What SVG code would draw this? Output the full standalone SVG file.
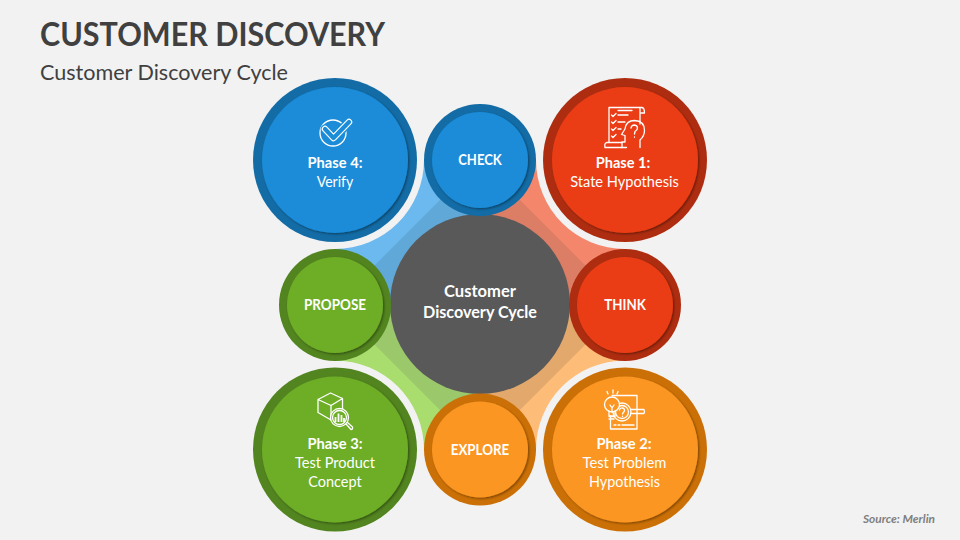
<svg xmlns="http://www.w3.org/2000/svg" width="960" height="540" viewBox="0 0 960 540">
<defs>
<filter id="sh" x="-20%" y="-20%" width="140%" height="140%"><feDropShadow dx="1.2" dy="1.2" stdDeviation="1.2" flood-color="#000" flood-opacity=".4"/></filter>
</defs>
<style>
text{font-family:Lato,"Liberation Sans",sans-serif;fill:#fff;text-anchor:middle}
.t{fill:#404040;text-anchor:start}
.b{font-weight:700}
.l{font-size:15.5px}
.c{font-size:15.5px;font-weight:700}
.i{fill:none;stroke:#fff;stroke-width:1.3;stroke-linecap:round;stroke-linejoin:round}
.in{filter:url(#sh)}
.blue .o{fill:#136CA6}.blue .in{fill:#1A8CD8}
.red .o{fill:#AE2D10}.red .in{fill:#EA3D14}
.orange .o{fill:#CB7006}.orange .in{fill:#FB9623}
.green .o{fill:#52841F}.green .in{fill:#6DAE27}
</style>
<rect width="960" height="540" fill="#F2F2F2"/>
<text class="t b" x="40" y="46" font-size="33" textLength="345" lengthAdjust="spacingAndGlyphs">CUSTOMER DISCOVERY</text>
<text class="t" x="40" y="80" font-size="21.500" textLength="248" lengthAdjust="spacingAndGlyphs">Customer Discovery Cycle</text>
<g id="connectors">
<path fill="#6BB9EF" d="M424,160A89,89 0 0 1 335,249L335,305L480,305L480,160Z"/>
<path fill="#F4876B" d="M536,160A89,89 0 0 0 625,249L625,305L480,305L480,160Z"/>
<path fill="#A9DD6D" d="M424,449.500A89,89 0 0 0 335,360.500L335,305L480,305L480,449.500Z"/>
<path fill="#FDBD78" d="M536,449.500A89,89 0 0 1 625,360.500L625,305L480,305L480,449.500Z"/>
<path fill="#5FA8D8" d="M450,190L365,275L380,305L480,305L480,190Z"/>
<path fill="#DC7D66" d="M510,190L595,275L580,305L480,305L480,190Z"/>
<path fill="#9AC86A" d="M365,335L450,420L480,420L480,305L380,305Z"/>
<path fill="#E3A96C" d="M595,335L510,420L480,420L480,305L580,305Z"/>
</g>
<g id="center">
<circle cx="480" cy="304" r="90" fill="#595959"/>
<text class="b" x="480" y="297" font-size="17" textLength="72" lengthAdjust="spacingAndGlyphs">Customer</text>
<text class="b" x="480" y="318" font-size="17" textLength="114" lengthAdjust="spacingAndGlyphs">Discovery Cycle</text>
</g>
<g id="check" class="blue">
<circle class="o" cx="480" cy="160" r="56"/><circle class="in" cx="480" cy="160" r="48"/>
<text class="c" x="480" y="165" textLength="43.500" lengthAdjust="spacingAndGlyphs">CHECK</text>
</g>
<g id="think" class="red">
<circle class="o" cx="625" cy="305" r="56"/><circle class="in" cx="625" cy="305" r="48"/>
<text class="c" x="625" y="310" textLength="41.500" lengthAdjust="spacingAndGlyphs">THINK</text>
</g>
<g id="explore" class="orange">
<circle class="o" cx="480" cy="449.500" r="56"/><circle class="in" cx="480" cy="449.500" r="48"/>
<text class="c" x="480" y="454.500" textLength="58.500" lengthAdjust="spacingAndGlyphs">EXPLORE</text>
</g>
<g id="propose" class="green">
<circle class="o" cx="335" cy="305" r="56"/><circle class="in" cx="335" cy="305" r="48"/>
<text class="c" x="335" y="310" textLength="62" lengthAdjust="spacingAndGlyphs">PROPOSE</text>
</g>
<g id="phase4" class="blue">
<circle class="o" cx="335" cy="160" r="82"/><circle class="in" cx="335" cy="160" r="73"/>
<circle class="i" cx="333" cy="133" r="13"/>
<path d="M325,129L333.500,138L349,122" fill="none" stroke="#1A8CD8" stroke-width="9" stroke-linecap="round" stroke-linejoin="round"/>
<path d="M325,129L333.500,138L349,122" fill="none" stroke="#fff" stroke-width="6.500" stroke-linecap="round" stroke-linejoin="round"/>
<path d="M325,129L333.500,138L349,122" fill="none" stroke="#1A8CD8" stroke-width="4.200" stroke-linecap="round" stroke-linejoin="round"/>
<text class="l b" x="335" y="167.500" textLength="55" lengthAdjust="spacingAndGlyphs">Phase 4:</text>
<text class="l" x="335" y="186.500" textLength="36.700" lengthAdjust="spacingAndGlyphs">Verify</text>
</g>
<g id="phase1" class="red">
<circle class="o" cx="625" cy="160" r="82"/><circle class="in" cx="625" cy="160" r="73"/>
<path class="i" d="M609,142.500V107.500H642Q644.500,108 644.500,113H640M640,108V124M605,147.500H626.500M605,147.500Q604,143 607,142.500H622"/>
<path class="i" d="M618,110.500H632M618,115H628M618,122H625M618,129H621"/>
<path class="i" d="M611.500,115l1.500,1.500l3,-3M611.500,122l1.500,1.500l3,-3M611.500,129l1.500,1.500l3,-3M611.500,136l1.500,1.500l3,-3"/>
<path class="i" d="M622,147.500V142H625V135.500L621.500,134.500L625,129Q626,120.500 634.500,120.500Q644.500,121 644.500,130.500Q644.500,136 640,140V147.500"/>
<path class="i" d="M631,128Q631.500,125 634.500,125Q637.500,125.500 637.500,128Q637.500,130 635,131.500L634.500,134M634.500,137V137.200"/>
<text class="l b" x="623" y="167.500" textLength="54.500" lengthAdjust="spacingAndGlyphs">Phase 1:</text>
<text class="l" x="624.500" y="187" textLength="108.700" lengthAdjust="spacingAndGlyphs">State Hypothesis</text>
</g>
<g id="phase2" class="orange">
<circle class="o" cx="625" cy="449.500" r="82"/><circle class="in" cx="625" cy="449.500" r="73"/>
<path class="i" d="M612,395.500H637V429H610.500V416"/>
<circle class="i" cx="622" cy="412" r="9" style="fill:#FB9623"/><circle class="i" cx="622" cy="412" r="6.500"/>
<path class="i" d="M631,409.500H644Q645,412 644,413.500H631"/>
<circle class="i" cx="612" cy="404.500" r="7.500" style="fill:#FB9623"/>
<path class="i" d="M609,411V416H615V411M609,416.500H615M609,419H614M610,405L612,408L614,405M612,408V412"/>
<path class="i" d="M607,391.500L608,394M613,390V393M618,391.500L617,394"/>
<path class="i" d="M619.500,410Q620,407.500 622.500,408Q625,408.500 624.500,411Q623,412.500 622.500,414M622.500,416.200V416.400"/>
<path class="i" d="M614,425H616M618,425H620M622,425H634"/>
<text class="l b" x="624" y="449" textLength="55" lengthAdjust="spacingAndGlyphs">Phase 2:</text>
<text class="l" x="624.500" y="467.500" textLength="84" lengthAdjust="spacingAndGlyphs">Test Problem</text>
<text class="l" x="624.500" y="486.500" textLength="71" lengthAdjust="spacingAndGlyphs">Hypothesis</text>
</g>
<g id="phase3" class="green">
<circle class="o" cx="335" cy="449.500" r="82"/><circle class="in" cx="335" cy="449.500" r="73"/>
<path class="i" d="M318,399.500L330.500,393L342.500,398.500L331,405.500ZM318,399.500V412.500L331,420M331,405.500V419M342.500,398.500V409"/>
<circle class="i" cx="339.500" cy="417.500" r="9" style="fill:#6DAE27"/><circle class="i" cx="339.500" cy="417.500" r="7"/>
<path class="i" d="M346,424L351,429.500Q353,429.500 352.500,427L347.500,422.500"/>
<path class="i" style="stroke-width:1.800;stroke-linecap:butt" d="M335.500,422V417M338.500,422V413.500M341.500,422V415M344,422V418"/>
<text class="l b" x="335" y="449" textLength="55" lengthAdjust="spacingAndGlyphs">Phase 3:</text>
<text class="l" x="335" y="467.500" textLength="80" lengthAdjust="spacingAndGlyphs">Test Product</text>
<text class="l" x="335" y="486.500" textLength="53.400" lengthAdjust="spacingAndGlyphs">Concept</text>
</g>
<text class="b" x="899" y="523" font-size="11" font-style="italic" style="fill:#7F7F7F" textLength="72" lengthAdjust="spacingAndGlyphs">Source: Merlin</text>
</svg>
